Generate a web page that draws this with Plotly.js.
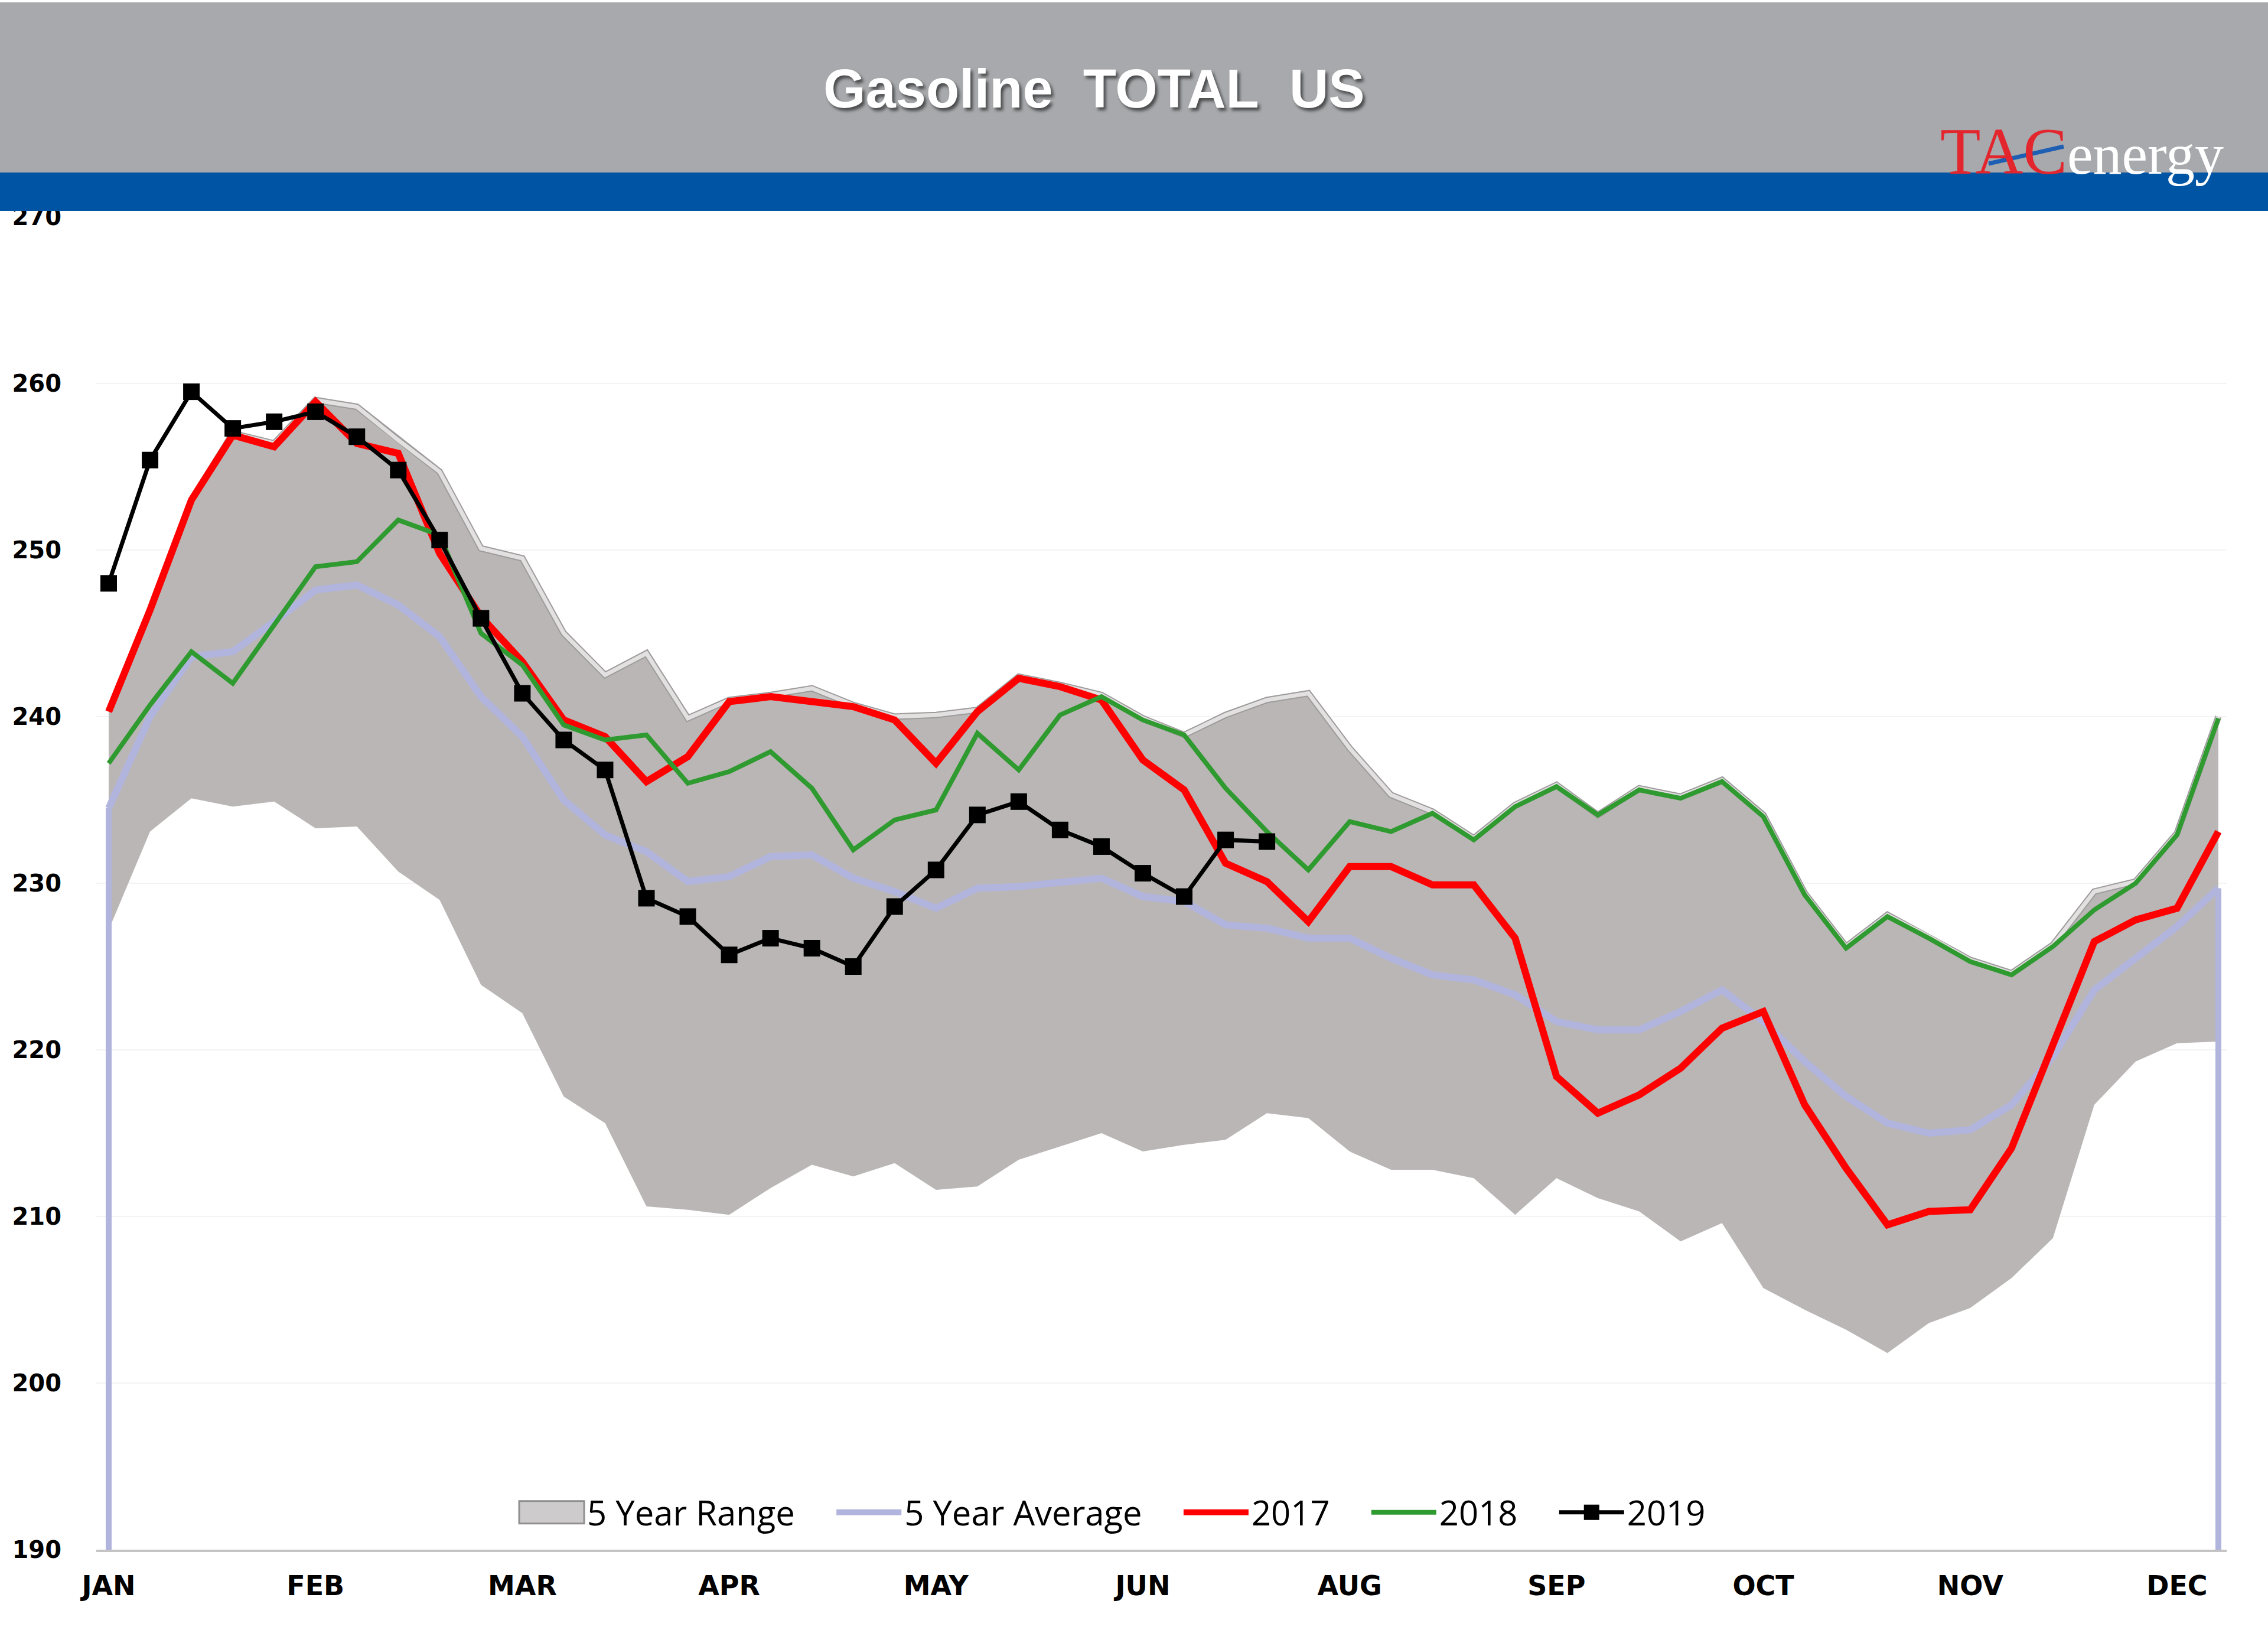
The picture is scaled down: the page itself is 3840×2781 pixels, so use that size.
<!DOCTYPE html>
<html>
<head>
<meta charset="utf-8">
<script src="https://cdn.plot.ly/plotly-3.0.1.min.js"></script>
<style>
  body { margin: 0; background: #ffffff; }
  #plot { width: 3840px; height: 2781px; }
</style>
</head>
<body>
<div id="plot"></div>
<script>
// week index along the year (weekly EIA data)
let weeks = [0, 1, 2, 3, 4, 5, 6, 7, 8, 9, 10, 11, 12, 13, 14, 15, 16, 17, 18, 19,
             20, 21, 22, 23, 24, 25, 26, 27, 28, 29, 30, 31, 32, 33, 34, 35, 36, 37, 38, 39,
             40, 41, 42, 43, 44, 45, 46, 47, 48, 49, 50, 51];

// month labels, one every five weeks (the source skips JUL)
let monthTicks = [0, 5, 10, 15, 20, 25, 30, 35, 40, 45, 50];
let monthLabels = ['JAN', 'FEB', 'MAR', 'APR', 'MAY', 'JUN', 'AUG', 'SEP', 'OCT', 'NOV', 'DEC'];

let yRange = [190, 270];

// 5 year range, low and high
let rangeLow = [227.2, 233.1, 235.1, 234.6, 234.9, 233.3, 233.4, 230.7, 229.0, 223.9, 222.2, 217.2, 215.6,
                210.6, 210.4, 210.1, 211.7, 213.1, 212.4, 213.2, 211.6, 211.8, 213.4, 214.2, 215.0,
                213.9, 214.3, 214.6, 216.2, 215.9, 213.9, 212.8, 212.8, 212.3, 210.1, 212.3,
                211.1, 210.3, 208.5, 209.6, 205.7, 204.4, 203.2, 201.8, 203.6, 204.5, 206.3, 208.7, 216.7, 219.3, 220.4, 220.5];
let rangeHigh = [240.3, 246.4, 253.0, 257.0, 256.4, 259.0, 258.6, 256.6, 254.7, 250.1, 249.5, 245.0, 242.5,
                 243.8, 239.9, 241.0, 241.3, 241.7, 240.7, 240.0, 240.1, 240.4, 242.4, 241.9, 241.3,
                 239.9, 238.9, 240.1, 241.0, 241.4, 238.1, 235.3, 234.3, 232.7, 234.7, 235.9,
                 234.1, 235.7, 235.2, 236.2, 234.1, 229.4, 226.2, 228.1, 226.8, 225.4, 224.6, 226.3, 229.5, 230.1, 233.0, 240.0];

let avg5 = [234.5, 240.0, 243.6, 243.9, 245.7, 247.6, 247.9, 246.7, 244.8, 241.2, 238.8, 235.0, 232.9,
            231.9, 230.1, 230.4, 231.6, 231.7, 230.3, 229.5, 228.5, 229.7, 229.8, 230.0, 230.3,
            229.2, 228.9, 227.5, 227.3, 226.7, 226.7, 225.5, 224.5, 224.2, 223.3, 221.7,
            221.2, 221.2, 222.3, 223.6, 221.7, 219.3, 217.2, 215.6, 215.0, 215.2, 216.7, 219.6, 223.6, 225.5, 227.4, 229.7];

let y2017 = [240.3, 246.4, 253.0, 256.9, 256.2, 258.9, 256.4, 255.8, 249.8, 246.0, 243.3, 239.8, 238.8,
             236.1, 237.6, 240.9, 241.2, 240.9, 240.6, 239.8, 237.2, 240.3, 242.3, 241.8, 241.0,
             237.4, 235.6, 231.2, 230.1, 227.7, 231.0, 231.0, 229.9, 229.9, 226.7, 218.4,
             216.2, 217.3, 218.9, 221.3, 222.3, 216.7, 212.9, 209.5, 210.3, 210.4, 214.1, 220.3, 226.5, 227.8, 228.5, 233.1];

let y2018 = [237.2, 240.7, 243.9, 242.0, 245.5, 249.0, 249.3, 251.8, 250.9, 245.0, 243.1, 239.5, 238.6,
             238.9, 236.0, 236.7, 237.9, 235.7, 232.0, 233.8, 234.4, 239.0, 236.8, 240.1, 241.2,
             239.8, 238.9, 235.7, 233.1, 230.8, 233.7, 233.1, 234.2, 232.6, 234.6, 235.8,
             234.1, 235.6, 235.1, 236.1, 234.0, 229.3, 226.1, 228.0, 226.7, 225.3, 224.5, 226.2, 228.4, 230.0, 232.9, 239.9];

let y2019 = [248.0, 255.4, 259.5, 257.3, 257.7, 258.3, 256.8, 254.8, 250.6, 245.9, 241.4, 238.6, 236.8,
             229.1, 228.0, 225.7, 226.7, 226.1, 225.0, 228.6, 230.8, 234.1, 234.9, 233.2, 232.2,
             230.6, 229.2, 232.6, 232.5];

const W = 3840, H = 2781;
const margin = {l: 163, r: 70, t: 367, b: 158, pad: 0};
const plotW = W - margin.l - margin.r;
const plotH = H - margin.t - margin.b;
// page pixels -> paper coords (for the header decorations)
function px(x) { return (x - margin.l) / plotW; }
function py(y) { return (H - margin.b - y) / plotH; }

const lavender = '#b1b4dc';
const lastWeek = weeks.length - 1;
const gap = '&nbsp;&nbsp;&nbsp;&nbsp;'; // extra room between legend entries

let traceLow = {
    x: weeks, y: rangeLow,
    type: 'scatter', mode: 'lines',
    line: {width: 0, color: 'rgba(0,0,0,0)'},
    showlegend: false, hoverinfo: 'skip'
};

let traceHigh = {
    x: weeks, y: rangeHigh,
    type: 'scatter', mode: 'lines',
    fill: 'tonexty', fillcolor: '#bab6b6',
    line: {width: 0, color: 'rgba(0,0,0,0)'},
    name: '5 Year Range' + gap
};

// bevelled top edge of the range area
let edgeDark = {
    x: weeks, y: rangeHigh,
    type: 'scatter', mode: 'lines',
    line: {width: 11, color: '#9e9b9b'},
    showlegend: false, hoverinfo: 'skip'
};
let edgeLight = {
    x: weeks, y: rangeHigh,
    type: 'scatter', mode: 'lines',
    line: {width: 7, color: '#e2e0e0'},
    showlegend: false, hoverinfo: 'skip'
};

// Excel leaves a drop line at both ends of the average series
let dropLines = {
    x: [weeks[0], weeks[0], null, weeks[lastWeek], weeks[lastWeek]],
    y: [avg5[0], yRange[0], null, avg5[lastWeek], yRange[0]],
    type: 'scatter', mode: 'lines',
    line: {width: 10, color: lavender},
    showlegend: false, hoverinfo: 'skip'
};

let traceAvg = {
    x: weeks, y: avg5,
    type: 'scatter', mode: 'lines',
    line: {width: 12, color: lavender},
    name: '5 Year Average' + gap
};

let trace2017 = {
    x: weeks, y: y2017,
    type: 'scatter', mode: 'lines',
    line: {width: 12, color: '#ff0000'},
    name: '2017' + gap
};

let trace2018 = {
    x: weeks, y: y2018,
    type: 'scatter', mode: 'lines',
    line: {width: 8, color: '#2f9a2f'},
    name: '2018' + gap
};

let trace2019 = {
    x: weeks.slice(0, y2019.length), y: y2019,
    type: 'scatter', mode: 'lines+markers',
    line: {width: 7, color: '#000000'},
    marker: {symbol: 'square', size: 28, color: '#000000'},
    name: '2019'
};

let layout = {
    width: W,
    height: H,
    margin: margin,
    paper_bgcolor: '#ffffff',
    plot_bgcolor: '#ffffff',
    showlegend: true,
    legend: {
        orientation: 'h',
        traceorder: 'normal',
        x: 0.477, xanchor: 'center',
        y: py(2560), yanchor: 'middle',
        bgcolor: 'rgba(0,0,0,0)',
        itemwidth: 110,
        font: {family: 'Open Sans', size: 58, color: '#000000'}
    },
    xaxis: {
        range: [-0.3, 51.2],
        tickmode: 'array',
        tickvals: monthTicks,
        ticktext: monthLabels,
        showgrid: false,
        zeroline: false,
        showline: true,
        linecolor: '#c4c4c4',
        linewidth: 4,
        ticks: '',
        ticklabelstandoff: 18,
        tickfont: {family: 'DejaVu Sans', size: 46, color: '#000000', weight: 'bold'},
        fixedrange: true
    },
    yaxis: {
        range: yRange,
        dtick: 10,
        showgrid: true,
        gridcolor: '#f3f3f3',
        gridwidth: 2,
        zeroline: false,
        showline: false,
        ticks: '',
        ticklabelstandoff: 58,
        tickfont: {family: 'DejaVu Sans', size: 40, color: '#000000', weight: 'bold'},
        fixedrange: true
    },
    shapes: [
        // grey header
        {type: 'rect', xref: 'paper', yref: 'paper', layer: 'below',
         x0: px(0), x1: px(W), y0: py(292), y1: py(4),
         fillcolor: '#a7a9ac', line: {width: 0}},
        // blue band
        {type: 'rect', xref: 'paper', yref: 'paper', layer: 'above',
         x0: px(0), x1: px(W), y0: py(357), y1: py(292),
         fillcolor: '#0054a4', line: {width: 0}},
        // slash of the logo
        {type: 'line', xref: 'paper', yref: 'paper', layer: 'above',
         x0: px(3367), x1: px(3494), y0: py(277), y1: py(248),
         line: {color: '#1f5fb3', width: 7}}
    ],
    annotations: [
        {
            text: 'Gasoline&nbsp;&nbsp;TOTAL&nbsp;&nbsp;US',
            xref: 'paper', yref: 'paper',
            x: px(1852), y: py(150),
            xanchor: 'center', yanchor: 'middle',
            showarrow: false,
            font: {family: 'Liberation Sans', size: 92, color: '#ffffff', weight: 'bold',
                   shadow: '4px 5px 5px rgba(0,0,0,0.55)'}
        },
        {
            text: '<span style="color:#e3262d;font-size:112px">TAC</span>energy',
            xref: 'paper', yref: 'paper',
            x: px(3767), y: py(256),
            xanchor: 'right', yanchor: 'middle',
            showarrow: false,
            font: {family: 'Liberation Serif', size: 98, color: '#ffffff'}
        }
    ]
};

let data = [traceLow, traceHigh, edgeDark, edgeLight, dropLines, traceAvg, trace2017, trace2018, trace2019];

Plotly.newPlot('plot', data, layout, {displayModeBar: false, staticPlot: true}).then(function(gd) {
    // plotly draws a thin strip for a filled trace in the legend; the source shows a box
    gd.querySelectorAll('.legendfill path').forEach(function(p) {
        p.setAttribute('d', 'M5,-19h110v38h-110z');
        p.style.fill = '#cdcbcb';
        p.style.stroke = '#8f8f8f';
        p.style.strokeWidth = '3px';
    });
    // legend markers are capped at 16px; the 2019 square is larger in the source
    gd.querySelectorAll('.legendpoints path.scatterpts').forEach(function(p) {
        p.setAttribute('d', 'M13,13H-13V-13H13Z');
    });
});
</script>
</body>
</html>
